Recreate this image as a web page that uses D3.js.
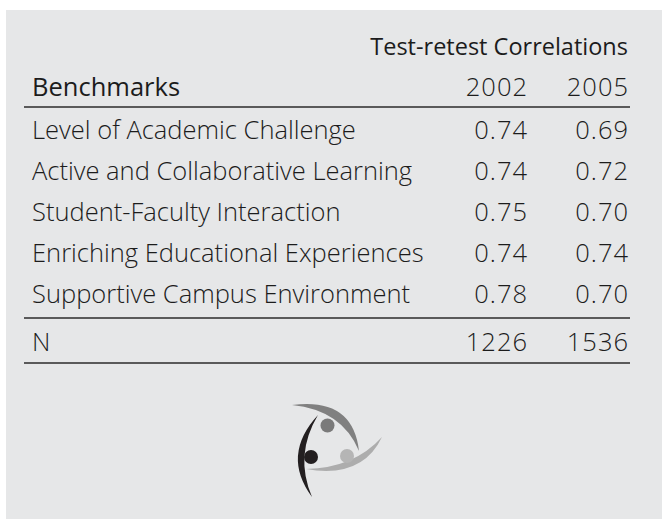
<!DOCTYPE html>
<html>
<head>
<meta charset="utf-8">
<script src="https://cdn.jsdelivr.net/npm/d3@7"></script>
<style>
  html, body { margin: 0; padding: 0; background: #fff; }
  svg text { font-family: 'Open Sans', 'Noto Sans', sans-serif; font-weight: 300; fill: #1c1c1c; }
  svg text.num { letter-spacing: 1px; }
</style>
</head>
<body>
<div id="chart"></div>
<script>
const benchmarks = [
  'Level of Academic Challenge',
  'Active and Collaborative Learning',
  'Student-Faculty Interaction',
  'Enriching Educational Experiences',
  'Supportive Campus Environment'
];
const years = ['2002', '2005'];
const corr2002 = [0.74, 0.74, 0.75, 0.74, 0.78];
const corr2005 = [0.69, 0.72, 0.70, 0.74, 0.70];
const sampleN = [1226, 1536];

const width = 662;
const height = 519;
const fontSize = 25.5;

const svg = d3.select('#chart')
  .append('svg')
  .attr('width', width)
  .attr('height', height);

// gray panel
svg.append('rect')
  .attr('x', 6)
  .attr('y', 10)
  .attr('width', width - 6)
  .attr('height', height - 10)
  .attr('fill', '#e6e7e8');

// column positions (right edge of each year column, +1 for trailing letter-spacing)
const x = d3.scalePoint()
  .domain(years)
  .range([528, 629]);

// row baselines
const y = d3.scalePoint()
  .domain(benchmarks)
  .range([139, 303]);

const fmt = d3.format('.2f');

svg.append('text')
  .attr('x', 628)
  .attr('y', 55)
  .attr('text-anchor', 'end')
  .attr('font-size', 23.5)
  .style('font-weight', 400)
  .text('Test-retest Correlations');

svg.append('text')
  .attr('x', 32)
  .attr('y', 96)
  .attr('font-size', fontSize)
  .style('font-weight', 400)
  .text('Benchmarks');

svg.selectAll('.year')
  .data(years)
  .join('text')
  .attr('class', 'year num')
  .attr('x', d => x(d))
  .attr('y', 96)
  .attr('text-anchor', 'end')
  .attr('font-size', fontSize)
  .text(d => d);

const rules = [107, 318, 363];
svg.selectAll('.rule')
  .data(rules)
  .join('line')
  .attr('class', 'rule')
  .attr('x1', 24)
  .attr('x2', 630)
  .attr('y1', d => d)
  .attr('y2', d => d)
  .attr('stroke', '#5a5a5a')
  .attr('stroke-width', 2);

const rows = svg.selectAll('.row')
  .data(benchmarks)
  .join('g')
  .attr('class', 'row')
  .attr('transform', d => `translate(0,${y(d)})`);

rows.append('text')
  .attr('x', 32)
  .attr('font-size', fontSize)
  .text(d => d);

rows.append('text')
  .attr('class', 'num')
  .attr('x', x('2002'))
  .attr('text-anchor', 'end')
  .attr('font-size', fontSize)
  .text((d, i) => fmt(corr2002[i]));

rows.append('text')
  .attr('class', 'num')
  .attr('x', x('2005'))
  .attr('text-anchor', 'end')
  .attr('font-size', fontSize)
  .text((d, i) => fmt(corr2005[i]));

svg.append('text')
  .attr('x', 32)
  .attr('y', 351)
  .attr('font-size', fontSize)
  .text('N');

svg.selectAll('.n')
  .data(sampleN)
  .join('text')
  .attr('class', 'n num')
  .attr('x', (d, i) => x(years[i]))
  .attr('y', 351)
  .attr('text-anchor', 'end')
  .attr('font-size', fontSize)
  .text(d => d);

// logo: three tapered arcs and three dots
function crescent(p0, p2, cOut, cIn) {
  const p = d3.path();
  p.moveTo(p0[0], p0[1]);
  p.quadraticCurveTo(cOut[0], cOut[1], p2[0], p2[1]);
  p.quadraticCurveTo(cIn[0], cIn[1], p0[0], p0[1]);
  p.closePath();
  return p.toString();
}

const logo = svg.append('g').attr('class', 'logo');

logo.append('path')
  .attr('d', crescent([292, 405], [359, 451], [353, 397], [342, 410]))
  .attr('fill', '#808080');
logo.append('path')
  .attr('d', crescent([382, 437], [306, 469], [362, 479], [354, 468]))
  .attr('fill', '#adadad');
logo.append('path')
  .attr('d', crescent([318, 415], [312, 497], [281, 455], [294, 455]))
  .attr('fill', '#231f20');

logo.append('circle').attr('cx', 327.5).attr('cy', 425.5).attr('r', 7).attr('fill', '#7a7a7a');
logo.append('circle').attr('cx', 311).attr('cy', 457).attr('r', 7).attr('fill', '#231f20');
logo.append('circle').attr('cx', 347).attr('cy', 456).attr('r', 7).attr('fill', '#b5b5b5');
</script>
</body>
</html>
